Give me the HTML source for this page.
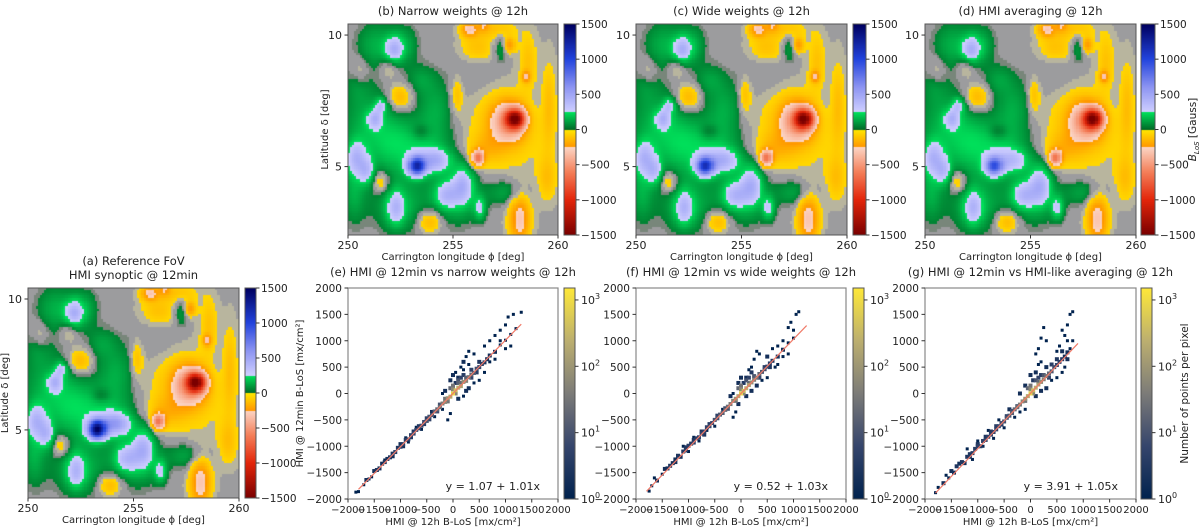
<!DOCTYPE html>
<html><head><meta charset="utf-8">
<style>
body{margin:0;background:#fff;width:1200px;height:530px;overflow:hidden;position:relative;font-family:"DejaVu Sans","Liberation Sans",sans-serif}
canvas{position:absolute}
svg{position:absolute;left:0;top:0}
</style></head>
<body>
<canvas id="mapA" width="211" height="210" style="left:28px;top:288px"></canvas>
<canvas id="mapB" width="210" height="211" style="left:348px;top:24px"></canvas>
<canvas id="mapC" width="211" height="211" style="left:636px;top:24px"></canvas>
<canvas id="mapD" width="211" height="211" style="left:925px;top:24px"></canvas>
<canvas id="cbA" width="11" height="210" style="left:245px;top:288px"></canvas>
<canvas id="cbB" width="12" height="211" style="left:564px;top:24px"></canvas>
<canvas id="cbC" width="13" height="211" style="left:853px;top:24px"></canvas>
<canvas id="cbD" width="14" height="211" style="left:1141px;top:24px"></canvas>
<svg id="fig" width="1200" height="530"></svg>
<script>
// ---- map data: field blobs [lon, lat, amplitude(G), sigmaLon, sigmaLat]
const mapBlobs = [
 [251.0,6.5,150,0.9,1.0],[252.3,5.8,160,0.8,0.8],[253.8,5.6,160,0.9,0.7],[252.5,3.5,150,0.9,0.7],
 [255.2,3.8,150,0.8,0.7],[257.6,4.0,130,0.7,0.35],[254.2,7.2,130,0.6,0.7],[251.3,9.6,140,0.6,0.6],
 [252.6,9.6,150,0.5,0.5],[250.3,4.0,140,0.4,0.8],[253.5,8.3,100,0.5,0.4],[250.5,8.2,90,0.4,0.5],
 [252.2,9.4,320,0.3,0.35],[253.3,5.0,1300,0.3,0.25],[254.2,5.2,420,0.5,0.3],[250.4,5.3,330,0.35,0.45],
 [255.5,4.3,330,0.35,0.5],[252.3,3.4,280,0.3,0.45],[254.7,3.9,280,0.4,0.35],[251.3,6.8,280,0.25,0.25],
 [250.9,4.8,280,0.25,0.35],[251.6,7.3,250,0.2,0.2],[256.3,3.4,250,0.2,0.3],
 [252.5,7.6,-170,0.4,0.35],[251.6,4.4,-160,0.3,0.3],[253.9,2.9,-170,0.4,0.3],[250.6,8.6,-110,0.3,0.4],
 [253.5,6.3,-110,0.3,0.2],[252,8.8,-110,0.3,0.3],
 [258,6.8,-1100,0.3,0.25],[257.7,6.7,-500,0.55,0.5],[257.6,6.6,-120,1.3,1.2],
 [256.2,5.3,-600,0.2,0.2],[256.6,5.7,-110,0.6,0.4],
 [256.2,9.5,-120,0.6,0.4],[255.8,10.2,-300,0.3,0.2],[257.2,10.2,-120,0.6,0.25],[258.6,9.0,-110,0.3,0.8],
 [259.6,7.3,-120,0.25,1.2],[258.2,3.0,-320,0.35,0.7],[259.5,4.5,-120,0.35,0.6],[255.2,7.7,-130,0.2,0.5],
 [256.5,10.4,-200,0.2,0.2],[257.7,9.6,-250,0.2,0.2],[258.5,8.4,-250,0.15,0.15],
 [257.3,9.5,120,0.25,0.4],[258.6,7.2,40,0.8,0.8],[256.2,8.5,40,1.0,0.6]
];
const blueScale = [1.0, 0.8, 0.75, 0.6];
const mapTicksX = [250, 255, 260];
const mapTicksY = [5, 10];
const cbTicks = [1500, 1000, 500, 0, -500, -1000, -1500];
// ---- scatter data [x(12h), y(12min), count]
const ptsE = [[-1850,-1870,1],[-1800,-1860,1],[-1700,-1730,1],[-1650,-1640,2],[-1550,-1580,1],[-1500,-1470,2],[-1450,-1450,3],[-1400,-1420,2],[-1350,-1330,2],[-1300,-1300,3],[-1250,-1240,2],[-1200,-1210,3],[-1150,-1140,3],[-1100,-1110,4],[-1050,-1030,3],[-1000,-1010,5],[-950,-960,4],[-900,-880,4],[-850,-870,5],[-800,-790,5],[-750,-760,6],[-700,-690,6],[-650,-660,5],[-600,-610,7],[-550,-540,8],[-500,-520,10],[-450,-440,10],[-400,-410,12],[-350,-340,15],[-300,-300,20],[-250,-260,25],[-200,-190,40],[-150,-160,60],[-100,-90,100],[-50,-60,200],[0,0,800],[50,60,400],[100,110,250],[150,140,150],[200,220,80],[250,240,50],[300,310,30],[350,360,20],[400,390,12],[450,470,8],[500,500,6],[550,560,4],[600,590,3],[700,720,2],[800,790,2],[900,920,1],[1000,1010,1],[1100,1120,1],[1200,1230,1],[1300,1540,1],[-900,-840,1],[-850,-920,1],[-700,-640,1],[-600,-680,1],[-400,-350,2],[-350,-440,1],[-200,-300,1],[-100,-500,1],[-50,-380,1],[50,200,3],[100,300,2],[150,500,1],[200,450,1],[250,700,1],[300,800,1],[400,750,1],[100,-100,2],[250,50,2],[300,100,2],[400,200,1],[500,250,1],[-150,50,2],[-200,0,1],[-50,250,2],[0,350,2],[50,400,1],[600,900,1],[700,1000,1],[800,1100,1],[900,1200,1],[1000,1300,1],[1050,1450,1],[1150,1500,1],[1000,850,1],[1100,900,1],[700,600,1],[800,650,1],[600,400,1],[300,550,1],[200,-50,1],[0,150,30],[100,250,10],[-50,100,20],[150,300,5],[200,350,4],[-1600,-1620,1],[-1300,-1260,1],[-1150,-1190,2],[-1000,-960,2],[-950,-1000,2],[-800,-830,3],[-750,-720,3],[-650,-620,3],[-550,-580,4],[-500,-470,5],[-450,-490,5],[-300,-340,8],[-250,-210,10],[-100,-150,30],[-150,-100,30],[50,0,60],[0,80,60],[150,200,20],[250,300,15],[350,300,6],[350,450,5],[450,400,4],[500,600,3],[650,650,2],[900,1000,1],[200,600,2],[100,200,15]];
const ptsF = [[-1750,-1850,1],[-1700,-1750,1],[-1600,-1650,2],[-1500,-1530,1],[-1450,-1430,2],[-1350,-1370,3],[-1300,-1320,2],[-1250,-1250,2],[-1200,-1180,3],[-1150,-1200,2],[-1100,-1100,3],[-1050,-1080,4],[-1000,-990,4],[-950,-950,4],[-900,-930,5],[-850,-850,4],[-800,-830,5],[-750,-760,6],[-700,-720,5],[-650,-640,6],[-600,-620,7],[-550,-560,7],[-500,-500,9],[-450,-470,10],[-400,-400,12],[-350,-370,15],[-300,-310,20],[-250,-250,25],[-200,-200,40],[-150,-140,60],[-100,-100,100],[-50,-50,200],[0,0,800],[50,50,400],[100,100,250],[150,160,150],[200,210,80],[250,260,50],[300,300,30],[350,370,20],[400,410,12],[450,460,8],[500,510,6],[550,570,4],[600,620,3],[700,700,2],[800,830,2],[900,960,1],[1000,1050,1],[1050,1500,1],[1100,1550,1],[-1100,-1000,1],[-1000,-1100,1],[-900,-830,1],[-800,-900,1],[-650,-700,1],[-500,-620,1],[-350,-300,1],[-150,-450,1],[-100,-350,1],[-50,-200,2],[50,200,3],[100,300,2],[150,450,1],[200,500,1],[250,650,1],[300,800,1],[350,750,1],[100,-50,2],[200,50,2],[300,150,2],[400,250,1],[500,300,1],[-200,-50,2],[-150,0,1],[-50,200,2],[0,300,2],[600,850,1],[700,900,1],[800,1000,1],[900,1250,1],[950,1350,1],[1000,1200,1],[800,700,1],[900,750,1],[650,500,1],[700,550,1],[0,150,30],[100,250,10],[-50,100,20],[150,300,5],[-1650,-1600,1],[-1400,-1420,2],[-1250,-1300,2],[-1050,-1020,3],[-900,-880,3],[-750,-720,3],[-700,-780,3],[-600,-580,4],[-450,-420,5],[-300,-280,8],[-250,-290,10],[-100,-140,30],[50,0,60],[0,80,60],[150,200,20],[250,330,12],[350,300,6],[450,500,4],[550,500,3],[200,400,3],[500,700,2]];
const ptsG = [[-1800,-1880,1],[-1750,-1780,1],[-1650,-1700,2],[-1600,-1550,1],[-1500,-1470,2],[-1450,-1500,2],[-1400,-1380,3],[-1300,-1300,3],[-1250,-1320,2],[-1200,-1200,3],[-1150,-1150,3],[-1100,-1130,4],[-1050,-1050,4],[-1000,-1000,5],[-950,-1000,4],[-900,-900,5],[-850,-880,5],[-800,-820,5],[-750,-780,6],[-700,-730,6],[-650,-680,6],[-600,-620,7],[-550,-560,8],[-500,-530,9],[-450,-460,10],[-400,-420,12],[-350,-370,15],[-300,-300,20],[-250,-260,25],[-200,-210,40],[-150,-150,60],[-100,-100,100],[-50,-50,200],[0,0,800],[50,60,400],[100,110,250],[150,170,150],[200,220,80],[250,270,50],[300,330,30],[350,380,20],[400,420,12],[450,500,8],[500,540,6],[550,600,4],[600,650,3],[650,700,2],[700,780,2],[750,850,1],[800,1000,1],[800,1550,1],[750,1500,1],[700,1300,1],[600,1200,1],[-1200,-1050,1],[-1100,-1250,1],[-1000,-900,1],[-900,-1000,1],[-800,-700,1],[-700,-850,1],[-600,-500,1],[-500,-650,1],[-400,-300,2],[-300,-450,1],[-200,-350,1],[-100,-300,1],[-200,0,2],[-100,150,2],[0,350,2],[50,250,3],[100,400,2],[150,550,1],[200,600,1],[100,750,1],[150,850,1],[200,1050,1],[300,1000,1],[250,1250,1],[100,-50,2],[200,50,2],[300,100,2],[400,250,1],[500,300,1],[600,400,1],[650,500,1],[500,800,1],[550,900,1],[650,1100,1],[-50,100,20],[0,150,30],[100,250,10],[150,300,5],[200,350,4],[300,500,2],[-1550,-1600,1],[-1350,-1330,2],[-1150,-1200,2],[-1000,-960,3],[-850,-820,3],[-750,-720,3],[-650,-620,4],[-550,-590,4],[-450,-430,5],[-350,-330,8],[-250,-240,10],[-100,-140,30],[50,0,60],[0,80,60],[150,220,20],[250,350,12],[350,300,6],[400,550,4],[500,650,3],[600,800,2],[700,1000,1],[700,650,2]];
const fitE = [1.07, 1.01], fitF = [0.52, 1.03], fitG = [3.91, 1.05];
const fitRangeE = [-1800, 1300], fitRangeF = [-1800, 1250], fitRangeG = [-1800, 900];
const scTicks = [-2000, -1500, -1000, -500, 0, 500, 1000, 1500, 2000];
const cbLogTicks = [0, 1, 2, 3];

// ---- colormaps
function lerp(a,b,t){return a+(b-a)*t}
function hex(h){return [parseInt(h.substr(1,2),16),parseInt(h.substr(3,2),16),parseInt(h.substr(5,2),16)]}
function stops(list,v){
  if(v<=list[0][0])return hex(list[0][1]);
  for(let i=1;i<list.length;i++){if(v<=list[i][0]){const t=(v-list[i-1][0])/(list[i][0]-list[i-1][0]);const a=hex(list[i-1][1]),b=hex(list[i][1]);return [lerp(a[0],b[0],t),lerp(a[1],b[1],t),lerp(a[2],b[2],t)];}}
  return hex(list[list.length-1][1]);
}
const posStops=[[250,'#cfcfff'],[600,'#8d95f2'],[1000,'#2244dd'],[1500,'#00005e']];
const negStops=[[-1500,'#7a0000'],[-1000,'#e3260a'],[-600,'#f4805a'],[-250,'#fbd6c6']];
function bcmap(B,gray){
  if(gray&&Math.abs(B)<50){
    if(B>28)return [120,134,122];
    if(B<-15)return [184,181,158];
    return [156,156,158];
  }
  if(B>=250)return stops(posStops,B);
  if(B>=0)return stops([[0,'#006a28'],[250,'#00e45c']],B);
  if(B>=-250)return stops([[-250,'#ff9600'],[0,'#ffe800']],B);
  return stops(negStops,B);
}
const cividisStops=[[0,'#00224e'],[0.25,'#35456c'],[0.5,'#7c7b78'],[0.75,'#bcaf6f'],[1,'#fee838']];
function cividis(t){return stops(cividisStops,t)}
function rgb(c){return 'rgb('+c.map(Math.round).join(',')+')'}

// ---- maps
function field(lon,lat,k){
  let s=0;
  for(const b of mapBlobs){let a=b[2];if(a>400)a*=blueScale[k];
    s+=a*Math.exp(-((lon-b[0])**2/(2*b[3]*b[3])+(lat-b[1])**2/(2*b[4]*b[4])));}
  return s;
}
const LAT0=2.4,LAT1=10.42;
['mapA','mapB','mapC','mapD'].forEach((id,k)=>{
  const cv=document.getElementById(id),ctx=cv.getContext('2d');
  const W=cv.width,H=cv.height;
  const nx=100,ny=80;
  for(let i=0;i<nx;i++)for(let j=0;j<ny;j++){
    const lon=250+(i+0.5)*0.1,lat=LAT0+(j+0.5)*(LAT1-LAT0)/ny;
    ctx.fillStyle=rgb(bcmap(field(lon,lat,k),true));
    const x0=Math.floor(i*W/nx),x1=Math.floor((i+1)*W/nx);
    const y1=Math.floor(H-j*H/ny),y0=Math.floor(H-(j+1)*H/ny);
    ctx.fillRect(x0,y0,x1-x0,y1-y0);
  }
});
['cbA','cbB','cbC','cbD'].forEach(id=>{
  const cv=document.getElementById(id),ctx=cv.getContext('2d');
  for(let y=0;y<cv.height;y++){const B=1500-3000*(y+0.5)/cv.height;ctx.fillStyle=rgb(bcmap(B,false));ctx.fillRect(0,y,cv.width,1);}
});

// ---- svg helpers
const NS='http://www.w3.org/2000/svg',svg=document.getElementById('fig');
function el(tag,attrs,parent){const e=document.createElementNS(NS,tag);for(const k in attrs)e.setAttribute(k,attrs[k]);(parent||svg).appendChild(e);return e}
function txt(x,y,s,size,anchor,parent,rot){const t=el('text',{x:x,y:y,'font-size':size,'text-anchor':anchor||'middle',fill:'#222'},parent);if(rot)t.setAttribute('transform','rotate(-90 '+x+' '+y+')');t.textContent=s;return t}

// map axes
const mapPanels=[
 {x:28,y:288,w:211,h:210,cb:[245,11],title:['(a) Reference FoV','HMI synoptic @ 12min'],ylab:true,cbl:false},
 {x:348,y:24,w:210,h:211,cb:[564,12],title:['(b) Narrow weights @ 12h'],ylab:true,cbl:false},
 {x:636,y:24,w:211,h:211,cb:[853,13],title:['(c) Wide weights @ 12h'],ylab:false,cbl:false},
 {x:925,y:24,w:211,h:211,cb:[1141,14],title:['(d) HMI averaging @ 12h'],ylab:false,cbl:true}
];
mapPanels.forEach((p,k)=>{
  const g=el('g',{});
  
  
  el('rect',{x:p.x,y:p.y,width:p.w,height:p.h,fill:'none',stroke:'#555','stroke-width':1},g);
  el('rect',{x:p.cb[0],y:p.y,width:p.cb[1],height:p.h,fill:'none',stroke:'#555','stroke-width':1},g);
  const sx=v=>p.x+(v-250)/10*p.w, sy=v=>p.y+p.h-(v-LAT0)/(LAT1-LAT0)*p.h;
  mapTicksX.forEach(v=>{el('line',{x1:sx(v),x2:sx(v),y1:p.y+p.h,y2:p.y+p.h+3.5,stroke:'#333'},g);const t=txt(sx(v),p.y+p.h+14,String(v),11,'middle',g);});
  mapTicksY.forEach(v=>{el('line',{x1:p.x-3.5,x2:p.x,y1:sy(v),y2:sy(v),stroke:'#333'},g);const t=txt(p.x-6,sy(v)+4,String(v),11,'end',g);});
  const cbx=p.cb[0]+p.cb[1];
  cbTicks.forEach(v=>{const yy=p.y+(1500-v)/3000*p.h;el('line',{x1:cbx,x2:cbx+3.5,y1:yy,y2:yy,stroke:'#333'},g);const t=txt(cbx+5,yy+4,v<0?'\u2212'+(-v):String(v),10.5,'start',g);});
  const xl=txt(p.x+p.w/2,p.y+p.h+25,'Carrington longitude \u03d5 [deg]',10,'middle',g);
  
  if(p.ylab){const yl=txt(p.x-20,p.y+p.h/2,'Latitude \u03b4 [deg]',10,'middle',g,true);}
  p.title.forEach((s,i)=>{const t=txt(p.x+p.w/2,p.y-9-(p.title.length-1-i)*14,s,11.5,'middle',g);});
  if(p.cbl){const t=el('text',{x:1196,y:p.y+p.h/2,'font-size':10.5,'text-anchor':'middle',fill:'#222',transform:'rotate(-90 1196 '+(p.y+p.h/2)+')'},g);
    t.innerHTML='<tspan font-style="italic">B</tspan><tspan font-size="7" dy="3" font-style="italic">LoS</tspan><tspan dy="-3"> [Gauss]</tspan>';
    }
});

// scatter panels
const scPanels=[
 {x:348,w:210,cb:564,pts:ptsE,fit:fitE,rng:fitRangeE,title:'(e) HMI @ 12min vs narrow weights @ 12h',ylab:true,cbl:false},
 {x:636,w:210,cb:853,pts:ptsF,fit:fitF,rng:fitRangeF,title:'(f) HMI @ 12min vs wide weights   @ 12h',ylab:false,cbl:false},
 {x:925,w:211,cb:1141,pts:ptsG,fit:fitG,rng:fitRangeG,title:'(g) HMI @ 12min vs HMI-like averaging @ 12h',ylab:false,cbl:true}
];
const SY=288,SH=211,LOGMAX=3.18;
scPanels.forEach((p,k)=>{
  const g=el('g',{});
  
  
  const sx=v=>p.x+(v+2000)/4000*p.w, sy=v=>SY+SH-(v+2000)/4000*SH;
  const gid='cv'+k;const defs=el('defs',{},g);const lg=el('linearGradient',{id:gid,x1:0,y1:1,x2:0,y2:0},defs);
  for(let i=0;i<=8;i++){el('stop',{offset:i/8,'stop-color':rgb(cividis(i/8))},lg);}
  const cbr=el('rect',{x:p.cb,y:SY,width:11,height:SH,fill:'url(#'+gid+')',stroke:'#555'},g);
  
  cbLogTicks.forEach(v=>{const yy=SY+SH-v/LOGMAX*SH;el('line',{x1:p.cb+11,x2:p.cb+14.5,y1:yy,y2:yy,stroke:'#333'},g);
    const t=el('text',{x:p.cb+17,y:yy+4,'font-size':11,fill:'#222'},g);t.innerHTML='10<tspan font-size="8" dy="-5">'+v+'</tspan>';
    });
  p.pts.slice().sort((a,b)=>a[2]-b[2]).forEach(pt=>{
    const sz=pt[2]>1?4:3;
    const r=el('rect',{x:sx(pt[0])-sz/2,y:sy(pt[1])-sz/2,width:sz,height:sz,fill:rgb(cividis(Math.log10(pt[2])/LOGMAX))},g);
    
    
  });
  const fl=el('line',{x1:sx(p.rng[0]),y1:sy(p.fit[0]+p.fit[1]*p.rng[0]),x2:sx(p.rng[1]),y2:sy(p.fit[0]+p.fit[1]*p.rng[1]),stroke:'#f07a68','stroke-width':1.2},g);
  
  el('rect',{x:p.x,y:SY,width:p.w,height:SH,fill:'none',stroke:'#888','stroke-width':1.2},g);
  scTicks.forEach(v=>{
    el('line',{x1:sx(v),x2:sx(v),y1:SY+SH,y2:SY+SH+3.5,stroke:'#333'},g);
    const lab=v<0?'\u2212'+(-v):String(v);
    const t=txt(sx(v),SY+SH+14,lab,10,'middle',g);
    el('line',{x1:p.x-3.5,x2:p.x,y1:sy(v),y2:sy(v),stroke:'#333'},g);
    const t2=txt(p.x-6,sy(v)+4,lab,10.5,'end',g);
  });
  const ft=txt(p.x+p.w-18,SY+SH-9,'y = '+p.fit[0].toFixed(2)+' + '+p.fit[1].toFixed(2)+'x',11,'end',g);
  
  const xt=txt(p.x+p.w/2,SY+SH+26,'HMI @ 12h B-LoS [mx/cm\u00b2]',10,'middle',g);
  
  if(p.ylab){const yt=txt(p.x-45,SY+SH/2,'HMI @ 12min B-LoS [mx/cm\u00b2]',10,'middle',g,true);}
  const tt=txt(p.x+p.w/2+(k==2?10:0),SY-12,p.title,11.5,'middle',g);tt.setAttribute('xml:space','preserve');
  if(p.cbl){const t=txt(1188,SY+SH/2,'Number of points per pixel',10.5,'middle',g,true);}
});
</script>
</body></html>
